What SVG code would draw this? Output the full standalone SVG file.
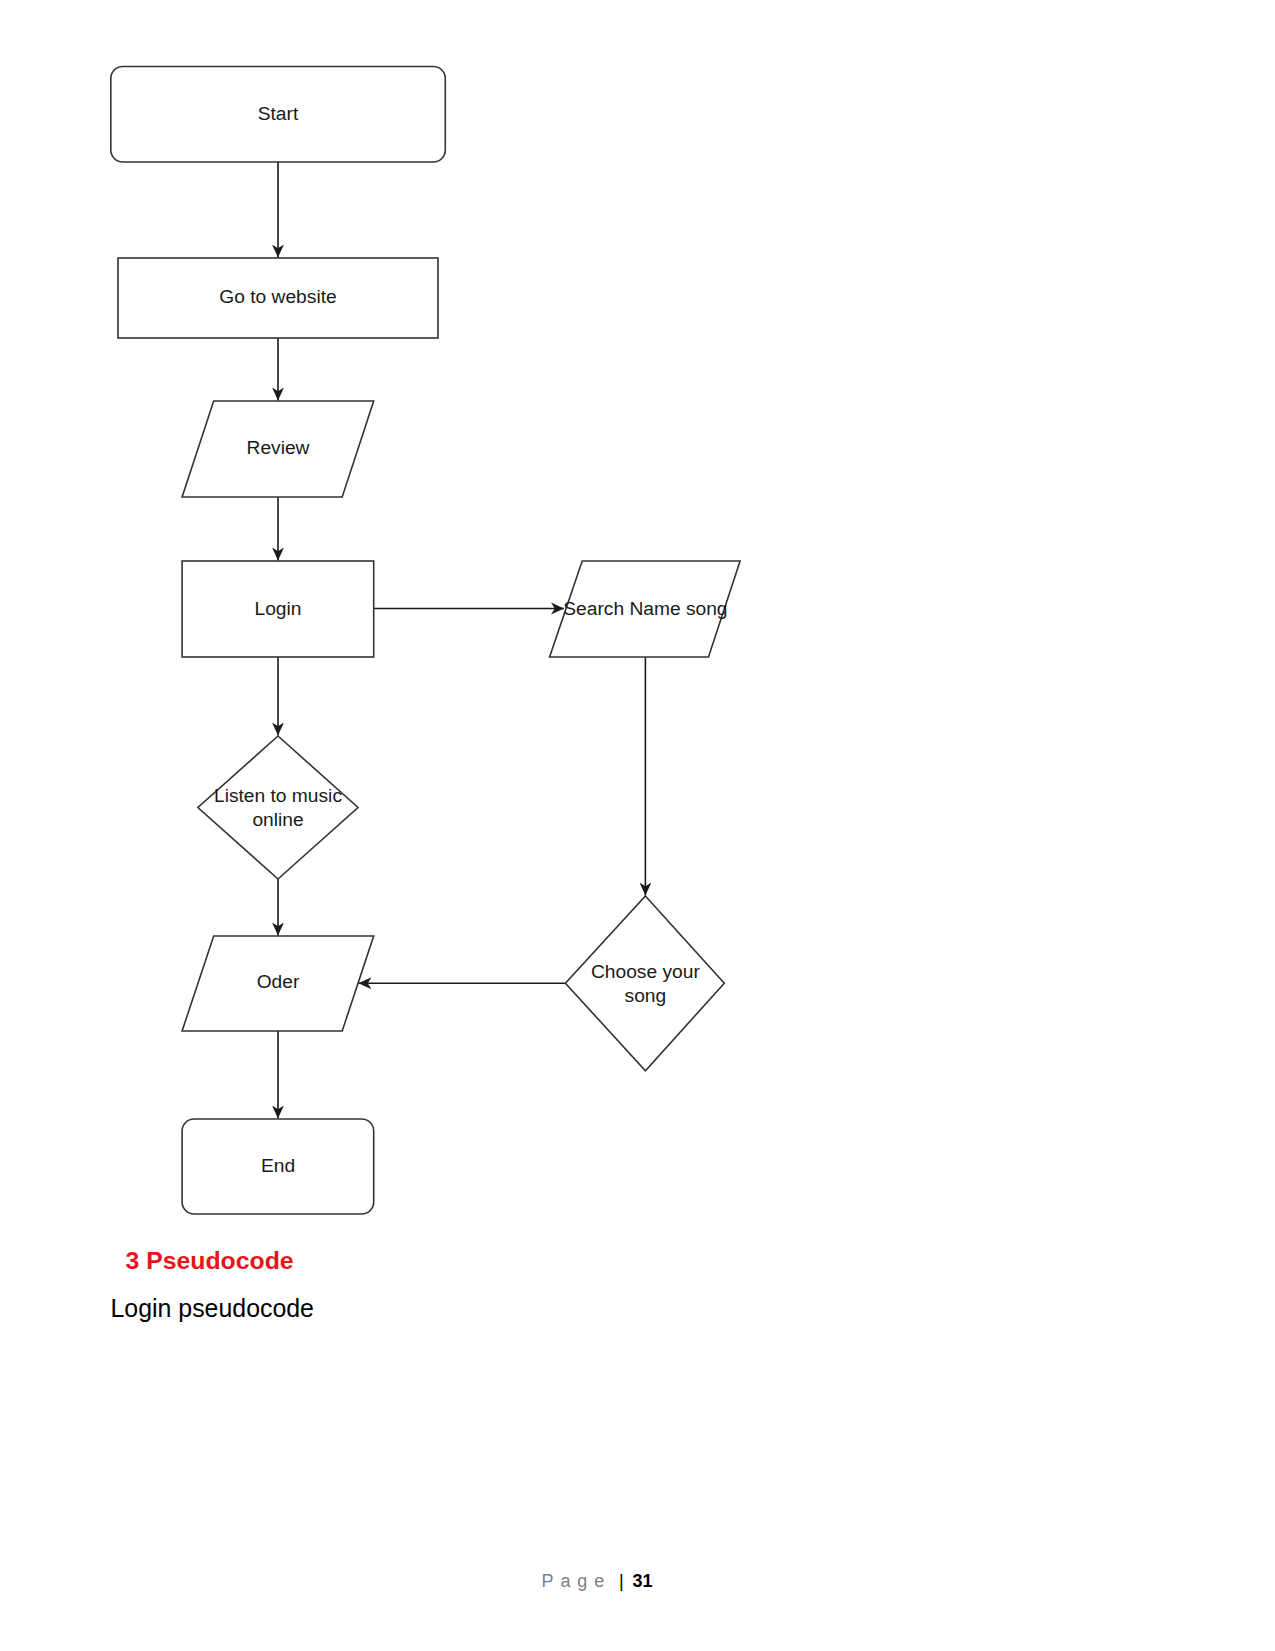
<svg xmlns="http://www.w3.org/2000/svg" width="1275" height="1651" viewBox="0 0 1275 1651">
<style>
.shape{fill:#fff;stroke:#333;stroke-width:1.6}
.lbl{font-family:"Liberation Sans",Arial,sans-serif;font-size:19.2px;fill:#1a1a1a;text-anchor:middle}
.edge{fill:none;stroke:#1a1a1a;stroke-width:1.6}
</style>
<defs>
<marker id="arr" markerUnits="userSpaceOnUse" markerWidth="13" markerHeight="13" viewBox="0 0 12 12" refX="12" refY="6" orient="auto">
<path d="M0,0.5 L12,6 L0,11.5 L3.5,6 Z" fill="#1a1a1a"/>
</marker>
</defs>
<rect width="1275" height="1651" fill="#fff"/>
<g id="connectors">
<line class="edge" x1="278" y1="162" x2="278" y2="257.5" marker-end="url(#arr)"/>
<line class="edge" x1="278" y1="338" x2="278" y2="400.5" marker-end="url(#arr)"/>
<line class="edge" x1="278" y1="497" x2="278" y2="560.5" marker-end="url(#arr)"/>
<line class="edge" x1="278" y1="657" x2="278" y2="735.5" marker-end="url(#arr)"/>
<line class="edge" x1="278" y1="879" x2="278" y2="935.5" marker-end="url(#arr)"/>
<line class="edge" x1="278" y1="1031" x2="278" y2="1118.5" marker-end="url(#arr)"/>
<line class="edge" x1="373.7" y1="608.5" x2="564" y2="608.5" marker-end="url(#arr)"/>
<line class="edge" x1="645.4" y1="657" x2="645.4" y2="895.5" marker-end="url(#arr)"/>
<line class="edge" x1="565.4" y1="983.3" x2="358.5" y2="983.3" marker-end="url(#arr)"/>
</g>
<g id="start">
<rect class="shape" x="110.8" y="66.5" width="334.5" height="95.5" rx="12" ry="12"/>
<text class="lbl" x="278" y="120">Start</text>
</g>
<g id="website">
<rect class="shape" x="118" y="258" width="320" height="80"/>
<text class="lbl" x="278" y="303">Go to website</text>
</g>
<g id="review">
<polygon class="shape" points="213.7,401 373.7,401 342.2,497 182.1,497"/>
<text class="lbl" x="278" y="454">Review</text>
</g>
<g id="login">
<rect class="shape" x="182.1" y="561" width="191.6" height="96"/>
<text class="lbl" x="278" y="614.5">Login</text>
</g>
<g id="search">
<polygon class="shape" points="582.2,561 740.1,561 708.5,657 549.6,657"/>
<text class="lbl" x="645.4" y="614.5">Search Name song</text>
</g>
<g id="listen">
<polygon class="shape" points="278,736 358,807.5 278,879 197.9,807.5"/>
<text class="lbl" x="278" y="802">Listen to music</text>
<text class="lbl" x="278" y="826">online</text>
</g>
<g id="oder">
<polygon class="shape" points="213.7,936 373.7,936 342.2,1031 182.1,1031"/>
<text class="lbl" x="278" y="988">Oder</text>
</g>
<g id="choose">
<polygon class="shape" points="645.4,896 724.3,983.3 645.4,1070.7 565.4,983.3"/>
<text class="lbl" x="645.4" y="977.5">Choose your</text>
<text class="lbl" x="645.4" y="1001.5">song</text>
</g>
<g id="end">
<rect class="shape" x="182.1" y="1119" width="191.6" height="95" rx="12" ry="12"/>
<text class="lbl" x="278" y="1172">End</text>
</g>
<text x="125.5" y="1269" font-family="Liberation Sans,Arial,sans-serif" font-size="24.8" font-weight="bold" fill="#e8141b">3 Pseudocode</text>
<text x="110.5" y="1317" font-family="Liberation Sans,Arial,sans-serif" font-size="24.9" fill="#000">Login pseudocode</text>
<text y="1586.5" font-family="Liberation Sans,Arial,sans-serif" font-size="18">
<tspan x="541.5" fill="#808080" letter-spacing="6.9">Page</tspan>
<tspan x="619" fill="#000">|</tspan>
<tspan x="632.5" fill="#000" font-weight="bold">31</tspan>
</text>
</svg>
